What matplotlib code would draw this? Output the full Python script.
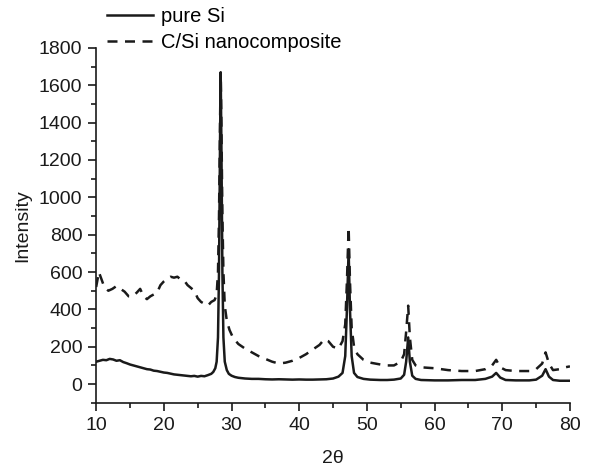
import matplotlib
matplotlib.use("Agg")
import matplotlib.pyplot as plt
from matplotlib.ticker import MultipleLocator

plt.rcParams['font.family'] = ['Liberation Sans', 'DejaVu Sans']

# pure Si
si_x = [10, 10.5, 11, 11.5, 12, 12.5, 13, 13.5, 14, 14.5, 15, 15.5, 16, 16.5, 17, 17.5, 18, 18.5, 19, 19.5,
        20, 20.5, 21, 21.5, 22, 22.5, 23, 23.5, 24, 24.5, 25, 25.5, 26, 26.5, 27, 27.3, 27.6, 27.8, 28.0, 28.15,
        28.3, 28.4, 28.5, 28.65, 28.8, 29.0, 29.3, 29.6, 30, 30.5, 31, 32, 33, 34, 35, 36, 37, 38, 39, 40,
        41, 42, 43, 44, 45, 45.8, 46.4, 46.8, 47.05, 47.3, 47.5, 47.75, 48.1, 48.6, 49.5, 50.5, 52, 53, 54, 55,
        55.5, 55.8, 56.1, 56.35, 56.7, 57.2, 58, 60, 62, 64, 66, 67.5, 68.5, 69.1, 69.7, 70.5, 72, 74, 75, 75.9,
        76.4, 76.9, 77.5, 78.5, 80]
si_y = [120, 125, 130, 128, 135, 132, 125, 128, 118, 112, 105, 100, 95, 90, 85, 80, 78, 72, 70, 66,
        62, 60, 56, 52, 50, 48, 46, 44, 42, 44, 40, 44, 42, 48, 55, 65, 85, 120, 250, 600,
        1300, 1660, 1300, 600, 250, 120, 75, 55, 45, 38, 34, 30, 28, 28, 26, 25, 26, 25, 24, 25,
        24, 24, 25, 26, 30, 40, 60, 150, 400, 720, 400, 150, 60, 38, 28, 24, 22, 22, 24, 30,
        50, 120, 250, 120, 45, 28, 22, 20, 20, 22, 22, 28, 40, 60, 35, 22, 20, 20, 24, 45,
        80, 40, 22, 18, 18]

# C/Si nanocomposite
cs_x = [10, 10.4, 10.8, 11.2, 11.8, 12.4, 13, 13.6, 14.2, 14.8, 15.4, 16, 16.5, 17, 17.5, 18, 18.5, 19, 19.5,
        20, 20.5, 21, 21.5, 22, 22.5, 23, 23.5, 24, 24.5, 25, 25.5, 26, 26.5, 27, 27.5, 27.8, 28.0, 28.15,
        28.3, 28.4, 28.5, 28.65, 28.8, 29.0, 29.3, 29.7, 30.2, 31, 32, 33, 34, 35, 36, 37, 38, 39, 40,
        41, 42, 43, 43.7, 44.3, 45, 45.8, 46.4, 46.8, 47.05, 47.3, 47.5, 47.75, 48.1, 48.6, 49.5, 50.5, 52, 53, 54, 55,
        55.5, 55.8, 56.1, 56.35, 56.7, 57.2, 58, 60, 62, 64, 66, 67.5, 68.5, 69.1, 69.7, 70.5, 72, 74, 75, 75.9,
        76.4, 76.9, 77.5, 78.5, 79.3, 80]
cs_y = [520, 600, 560, 520, 500, 510, 525, 510, 495, 470, 470, 490, 510, 470, 455, 470, 480, 490, 530,
        550, 565, 575, 570, 575, 560, 555, 530, 515, 500, 460, 440, 430, 420, 440, 450, 480, 600, 900,
        1400, 1670, 1400, 900, 600, 420, 340, 290, 250, 215, 190, 170, 150, 135, 120, 110, 115, 125, 140,
        160, 185, 210, 240, 230, 200, 190, 230, 320, 550, 840, 550, 300, 200, 160, 130, 115, 105, 100, 100, 120,
        160, 280, 420, 250, 130, 100, 90, 85, 75, 70, 70, 80, 100, 130, 90, 75, 70, 70, 80, 110,
        170, 110, 75, 80, 90, 95]

fig = plt.figure(figsize=(5.9, 4.7), dpi=100)
ax = fig.add_axes([0.163, 0.143, 0.803, 0.755])

ax.plot(si_x, si_y, color='#1a1a1a', lw=1.8, label='pure Si')
ax.plot(cs_x, cs_y, color='#1a1a1a', lw=1.8, dashes=(4, 3), label='C/Si nanocomposite')

ax.set_xlim(10, 80)
ax.set_ylim(-100, 1800)
ax.xaxis.set_major_locator(MultipleLocator(10))
ax.xaxis.set_minor_locator(MultipleLocator(5))
ax.yaxis.set_major_locator(MultipleLocator(200))
ax.yaxis.set_minor_locator(MultipleLocator(100))
ax.set_yticks(range(0, 1801, 200))

for s in ['top', 'right']:
    ax.spines[s].set_visible(False)
for s in ['left', 'bottom']:
    ax.spines[s].set_linewidth(1.2)
    ax.spines[s].set_color('#1a1a1a')

ax.tick_params(which='major', direction='out', length=6, width=1.2, labelsize=14, colors='#1a1a1a', pad=4)
ax.tick_params(which='minor', direction='out', length=3.5, width=1.2, colors='#1a1a1a')

ax.set_xlabel('2θ', fontsize=14, color='#1a1a1a', labelpad=12)
ax.set_ylabel('Intensity', fontsize=14, color='#1a1a1a', labelpad=5)

leg = ax.legend(loc='lower left', bbox_to_anchor=(0.005, 0.965), frameon=False, fontsize=14.5,
                handlelength=2.3, handletextpad=0.4, labelspacing=0.35, borderaxespad=0.0)

fig.savefig('out.png', dpi=100)
